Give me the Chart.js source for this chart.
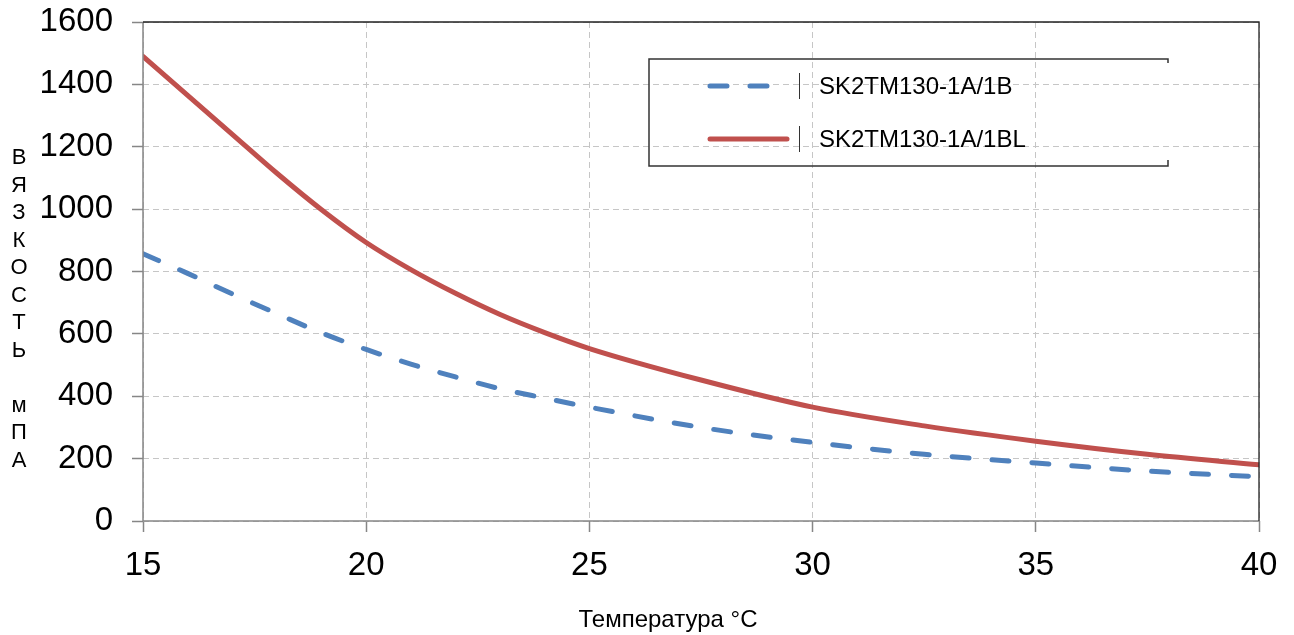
<!DOCTYPE html>
<html>
<head>
<meta charset="utf-8">
<script src="https://cdn.jsdelivr.net/npm/chart.js@4"></script>
<style>
  html, body { margin: 0; padding: 0; background: #fff; }
  #wrap { width: 1294px; height: 635px; position: relative; }
</style>
</head>
<body>
<div id="wrap"><canvas id="chart"></canvas></div>
<script>
// temperature points (°C)
const temps = [15, 16, 17, 18, 19, 20, 21, 22, 23, 24, 25, 27.5, 30, 32.5, 35, 37.5, 40];
// viscosity, mPa·s
const viscosity1B = [857, 794, 728, 665, 603, 550, 503, 462, 424, 394, 365, 300, 252, 214, 186, 160, 142];
const viscosity1BL = [1490, 1365, 1240, 1115, 998, 893, 806, 730, 662, 604, 553, 452, 365, 305, 256, 214, 180];
const seriesNames = ["SK2TM130-1A/1B", "SK2TM130-1A/1BL"];
const xTitle = "Температура °C";
const yTitle = "ВЯЗКОСТЬ мПА";

const BLUE = "#4F81BD";
const RED = "#C0504D";
const GRID = "#C6C6C6";
const AXIS = "#868686";
const FONT = "'Liberation Sans', Arial, sans-serif";

const toPoints = (vals) => vals.map((v, i) => ({ x: temps[i], y: v }));

// axis lines, plot frame, titles and the boxed legend
const decorations = {
  id: "decorations",
  afterDraw(chart) {
    const ctx = chart.ctx;
    const area = chart.chartArea;
    ctx.save();

    // solid gray axis lines (left, bottom)
    ctx.strokeStyle = AXIS;
    ctx.lineWidth = 1.5;
    ctx.beginPath();
    ctx.moveTo(area.left, area.top);
    ctx.lineTo(area.left, area.bottom);
    ctx.lineTo(area.right, area.bottom);
    ctx.stroke();

    // top and right frame of the plot
    ctx.strokeStyle = "#222";
    ctx.lineWidth = 1.3;
    ctx.beginPath();
    ctx.moveTo(area.left, area.top);
    ctx.lineTo(area.right, area.top);
    ctx.lineTo(area.right, area.bottom);
    ctx.stroke();

    // y title, one letter per line
    ctx.fillStyle = "#000";
    ctx.font = "22px " + FONT;
    ctx.textAlign = "center";
    ctx.textBaseline = "middle";
    yTitle.split("").forEach((ch, i) => {
      ctx.fillText(ch, 19, 158 + i * 27.5);
    });

    // x title
    ctx.font = "24px " + FONT;
    ctx.fillText(xTitle, 668, 620);

    // legend box (right side is open except the corners)
    const bx = 649, by = 59, bw = 519, bh = 107;
    ctx.strokeStyle = "#333";
    ctx.lineWidth = 1.5;
    ctx.beginPath();
    ctx.moveTo(bx + bw, by + 4);
    ctx.lineTo(bx + bw, by);
    ctx.lineTo(bx, by);
    ctx.lineTo(bx, by + bh);
    ctx.lineTo(bx + bw, by + bh);
    ctx.lineTo(bx + bw, by + bh - 6);
    ctx.stroke();

    const rows = [86, 139];
    chart.data.datasets.forEach((ds, i) => {
      const y = rows[i];
      ctx.strokeStyle = ds.borderColor;
      ctx.lineWidth = ds.borderWidth;
      ctx.lineCap = "round";
      ctx.setLineDash(ds.borderDash || []);
      ctx.beginPath();
      ctx.moveTo(710, y);
      ctx.lineTo(i === 0 ? 770 : 787, y);
      ctx.stroke();
      ctx.setLineDash([]);
      ctx.lineCap = "butt";
      ctx.strokeStyle = "#333";
      ctx.lineWidth = 1;
      ctx.beginPath();
      ctx.moveTo(799.5, y - 13);
      ctx.lineTo(799.5, y + 13);
      ctx.stroke();
      ctx.fillStyle = "#000";
      ctx.font = "24px " + FONT;
      ctx.textAlign = "left";
      ctx.fillText(ds.label, 819, y + 1);
    });

    ctx.restore();
  }
};

const noEdgePadding = (scale) => {
  scale.paddingTop = 0;
  scale.paddingBottom = 0;
  scale.paddingLeft = 0;
  scale.paddingRight = 0;
};

new Chart(document.getElementById("chart"), {
  type: "line",
  data: {
    datasets: [
      {
        label: seriesNames[0],
        data: toPoints(viscosity1B),
        borderColor: BLUE,
        borderWidth: 5,
        borderDash: [17, 23],
        borderCapStyle: "round",
        cubicInterpolationMode: "monotone",
        pointRadius: 0,
        fill: false,
      },
      {
        label: seriesNames[1],
        data: toPoints(viscosity1BL),
        borderColor: RED,
        borderWidth: 5,
        borderCapStyle: "round",
        cubicInterpolationMode: "monotone",
        pointRadius: 0,
        fill: false,
      },
    ],
  },
  options: {
    responsive: true,
    maintainAspectRatio: false,
    animation: false,
    layout: { padding: { top: 22, right: 35, left: 0, bottom: 0 } },
    plugins: {
      legend: { display: false },
      tooltip: { enabled: false },
    },
    scales: {
      x: {
        type: "linear",
        min: 15,
        max: 40,
        afterFit: (scale) => { scale.height = 114; noEdgePadding(scale); },
        ticks: {
          stepSize: 5,
          color: "#000",
          padding: 14,
          font: { family: FONT, size: 33 },
          callback: (v) => String(v),
        },
        grid: {
          color: GRID,
          tickLength: 11,
          tickColor: AXIS,
          tickBorderDash: [],
          tickWidth: 1.5,
        },
        border: { display: false, dash: [6, 4] },
      },
      y: {
        min: 0,
        max: 1600,
        afterFit: (scale) => { scale.width = 143; noEdgePadding(scale); },
        ticks: {
          stepSize: 200,
          color: "#000",
          padding: 19,
          font: { family: FONT, size: 33 },
          callback: (v) => String(v),
        },
        grid: {
          color: GRID,
          tickLength: 11,
          tickColor: AXIS,
          tickBorderDash: [],
          tickWidth: 1.5,
        },
        border: { display: false, dash: [6, 4] },
      },
    },
  },
  plugins: [decorations],
});
</script>
</body>
</html>
